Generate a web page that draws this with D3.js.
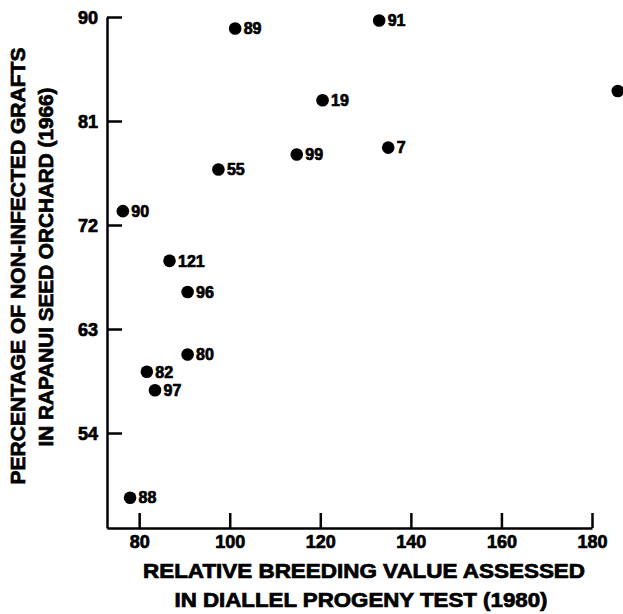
<!DOCTYPE html>
<html><head><meta charset="utf-8">
<script src="https://cdn.jsdelivr.net/npm/d3@7"></script>
<style>body{margin:0;background:#fff}svg{display:block}text{font-family:"Liberation Sans",Arial,sans-serif;font-weight:bold;fill:#000;stroke:#000;stroke-width:0.7px}</style>
</head><body>
<script>
const labels = ["89","91","19","7","99","55","90","121","96","80","82","97","88",""];
const xVals = [101.2,133,120.5,135,114.8,97.5,76.4,86.7,90.7,90.7,81.7,83.5,78,185.7];
const yVals = [89.0,89.7,82.8,78.7,78.1,76.8,73.2,68.9,66.2,60.8,59.3,57.7,48.4,83.6];
const xTicks = [80,100,120,140,160,180];
const yTicks = [54,63,72,81,90];
const xTitle = ["RELATIVE BREEDING VALUE ASSESSED","IN DIALLEL PROGENY TEST (1980)"];
const yTitle = ["PERCENTAGE OF NON-INFECTED GRAFTS","IN RAPANUI SEED ORCHARD (1966)"];

const W=623,H=614;
const svg=d3.select("body").append("svg").attr("width",W).attr("height",H);
const x=d3.scaleLinear().domain([72.9,180]).range([107,592]);
const y=d3.scaleLinear().domain([45.78,90]).range([528,17]);

const gx=svg.append("g").attr("transform","translate(0,528)")
  .call(d3.axisBottom(x).tickValues(xTicks).tickSizeInner(-15).tickSizeOuter(0).tickPadding(20).tickFormat(d3.format("d")));
const gy=svg.append("g").attr("transform","translate(107,0)")
  .call(d3.axisLeft(y).tickValues(yTicks).tickSizeInner(-15).tickSizeOuter(0).tickPadding(9).tickFormat(d3.format("d")));
[gx,gy].forEach(g=>{
  g.select(".domain").attr("stroke","#000").attr("stroke-width",2.5);
  g.selectAll(".tick line").attr("stroke","#000").attr("stroke-width",2.5);
  g.selectAll(".tick text").style("font-size","18px").attr("fill","#000");
});
gx.selectAll(".tick text").attr("dy","0em");
gy.selectAll(".tick text").attr("dy","0.35em");

const pts=labels.map((l,i)=>({l,x:xVals[i],y:yVals[i]}));
svg.append("g").selectAll("circle").data(pts).join("circle")
  .attr("cx",d=>x(d.x)).attr("cy",d=>y(d.y)).attr("r",6.3).attr("fill","#000");
svg.append("g").selectAll("text").data(pts).join("text")
  .attr("x",d=>x(d.x)+8.5).attr("y",d=>y(d.y)).attr("dy","0.36em")
  .style("font-size","16px").text(d=>d.l);

svg.append("text").attr("x",364).attr("y",578).attr("text-anchor","middle")
  .style("font-size","19.5px").attr("textLength",442).attr("lengthAdjust","spacingAndGlyphs").text(xTitle[0]);
svg.append("text").attr("x",361).attr("y",607).attr("text-anchor","middle")
  .style("font-size","19.5px").attr("textLength",373).attr("lengthAdjust","spacingAndGlyphs").text(xTitle[1]);

svg.append("text").attr("transform","translate(25,266) rotate(-90)").attr("text-anchor","middle")
  .style("font-size","19.5px").attr("textLength",437).attr("lengthAdjust","spacingAndGlyphs").text(yTitle[0]);
svg.append("text").attr("transform","translate(53,267) rotate(-90)").attr("text-anchor","middle")
  .style("font-size","19.5px").attr("textLength",359).attr("lengthAdjust","spacingAndGlyphs").text(yTitle[1]);
</script>
</body></html>
